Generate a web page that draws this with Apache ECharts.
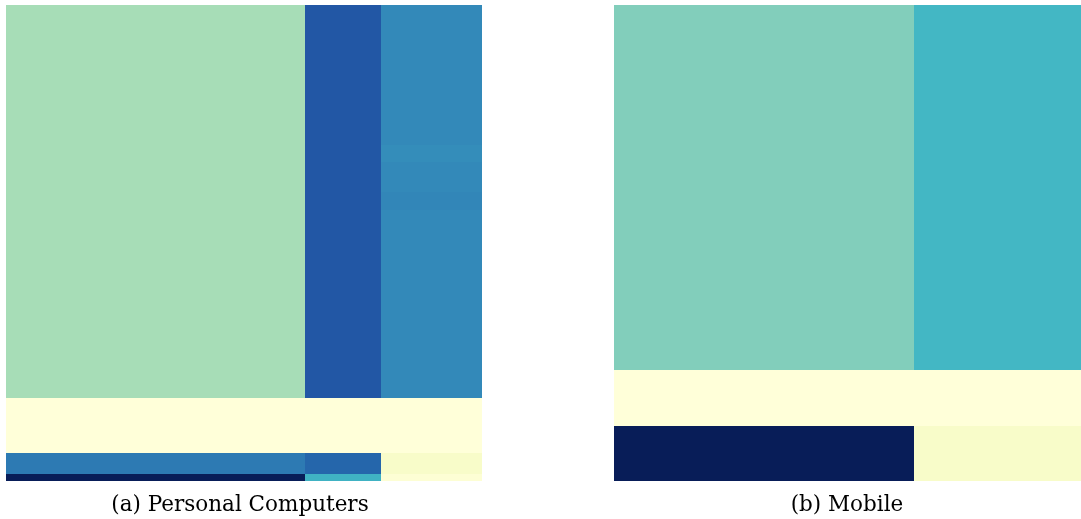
<!DOCTYPE html>
<html>
<head>
<meta charset="utf-8">
<script src="https://cdn.jsdelivr.net/npm/echarts@6/dist/echarts.min.js"></script>
<style>
  html, body { margin: 0; padding: 0; background: #fff; }
  #chart { width: 1081px; height: 519px; }
</style>
</head>
<body>
<div id="chart"></div>
<script>
// Share mosaics: column and row edges (cumulative fractions) and cell intensities.
const pcColEdges = [0, 0.628, 0.788, 1];
const pcRowEdges = [0, 0.294, 0.330, 0.393, 0.431, 0.826, 0.941, 0.985, 1];
const pcValues = [
  [0.305, 0.77, 0.625],
  [0.305, 0.77, 0.615],
  [0.305, 0.77, 0.625],
  [0.305, 0.77, 0.635],
  [0.305, 0.77, 0.625],
  [0.000, 0.00, 0.000],
  [0.669, 0.726, 0.050],
  [1.000, 0.510, 0.015]
];

const mobileColEdges = [0, 0.642, 1];
const mobileRowEdges = [0, 0.767, 0.884, 1];
const mobileValues = [
  [0.37, 0.495],
  [0.00, 0.000],
  [1.00, 0.050]
];

const captions = ['(a) Personal Computers', '(b) Mobile'];

// Yellow-green-blue colour ramp (low -> high)
const ylGnBu = ['#ffffd9', '#edf8b1', '#c7e9b4', '#7fcdbb', '#41b6c4',
                '#3389b9', '#225ea8', '#253494', '#081d58'];

function toCells(colEdges, rowEdges, values) {
  const cells = [];
  for (let r = 0; r < values.length; r++) {
    for (let c = 0; c < values[r].length; c++) {
      cells.push([colEdges[c], colEdges[c + 1], rowEdges[r], rowEdges[r + 1], values[r][c]]);
    }
  }
  return cells;
}

// Cells snap to whole pixels so neighbouring cells meet without seams.
function renderCell(params, api) {
  const p0 = api.coord([api.value(0), api.value(2)]);
  const p1 = api.coord([api.value(1), api.value(3)]);
  const x0 = Math.round(Math.min(p0[0], p1[0]));
  const x1 = Math.round(Math.max(p0[0], p1[0]));
  const y0 = Math.round(Math.min(p0[1], p1[1]));
  const y1 = Math.round(Math.max(p0[1], p1[1]));
  return {
    type: 'rect',
    shape: { x: x0, y: y0, width: x1 - x0, height: y1 - y0 },
    style: { fill: api.visual('color') }
  };
}

const grids = [
  { left: 6, top: 5, width: 476, height: 476 },
  { left: 614, top: 5, width: 467, height: 476 }
];
const captionX = [240, 847];

const chart = echarts.init(document.getElementById('chart'), null, { renderer: 'canvas' });
chart.setOption({
  animation: false,
  backgroundColor: '#ffffff',
  grid: grids,
  xAxis: [0, 1].map(i => ({ type: 'value', gridIndex: i, min: 0, max: 1, show: false })),
  yAxis: [0, 1].map(i => ({ type: 'value', gridIndex: i, min: 0, max: 1, inverse: true, show: false })),
  visualMap: {
    show: false,
    type: 'continuous',
    min: 0,
    max: 1,
    dimension: 4,
    seriesIndex: [0, 1],
    inRange: { color: ylGnBu }
  },
  series: [
    {
      type: 'custom',
      xAxisIndex: 0, yAxisIndex: 0,
      renderItem: renderCell,
      encode: { x: [0, 1], y: [2, 3] },
      data: toCells(pcColEdges, pcRowEdges, pcValues)
    },
    {
      type: 'custom',
      xAxisIndex: 1, yAxisIndex: 1,
      renderItem: renderCell,
      encode: { x: [0, 1], y: [2, 3] },
      data: toCells(mobileColEdges, mobileRowEdges, mobileValues)
    }
  ],
  graphic: captions.map((text, i) => ({
    type: 'text',
    x: captionX[i],
    y: 505,
    style: {
      text: text,
      fill: '#000',
      font: '21.5px "DejaVu Serif"',
      align: 'center',
      verticalAlign: 'middle'
    }
  }))
});
</script>
</body>
</html>
